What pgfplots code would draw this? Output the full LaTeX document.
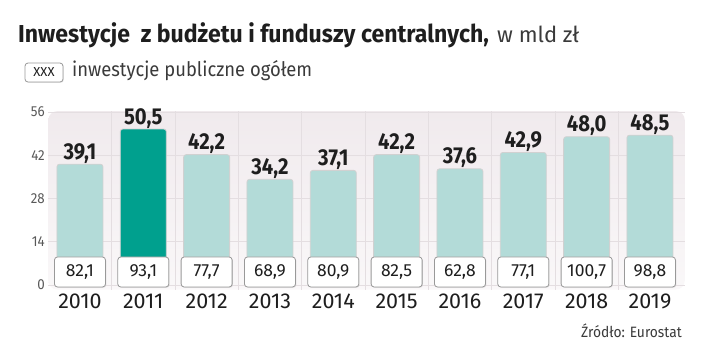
\documentclass[border=0pt]{standalone}
\usepackage{pgfplots}
\pgfplotsset{compat=1.18}
\usepackage{pgfplotstable}
\usepackage{fontspec}
\setmainfont{Fira Sans}
\newfontfamily\cond[FakeStretch=0.94]{Fira Sans}
\newfontfamily\labf[FakeStretch=0.88]{Fira Sans}
\newfontfamily\thin[FakeStretch=0.92]{Fira Sans}
\newfontfamily\unit[FakeStretch=1.0]{Fira Sans}
\usetikzlibrary{shadows}
\definecolor{lightbar}{HTML}{B3DBD8}
\definecolor{darkbar}{HTML}{00A08E}
\definecolor{panel}{HTML}{F0EAED}
\definecolor{gridc}{HTML}{E4DEE1}
\definecolor{ink}{HTML}{1E1E1E}
\definecolor{soft}{HTML}{3A3A3A}

\pgfplotstableread{
x inv invlab total boxy
0 39.1 39,1 82,1 4.2
1 50.5 50,5 93,1 4.2
2 42.2 42,2 77,7 4.2
3 34.2 34,2 68,9 4.2
4 37.1 37,1 80,9 4.2
5 42.2 42,2 82,5 4.2
6 37.6 37,6 62,8 4.2
7 42.9 42,9 77,1 4.2
8 48.0 48,0 100,7 4.2
9 48.5 48,5 98,8 4.2
}\data

\pgfplotstableread{
x inv invlab
0 39.1 39,1
2 42.2 42,2
3 34.2 34,2
4 37.1 37,1
5 42.2 42,2
6 37.6 37,6
7 42.9 42,9
8 48.0 48,0
9 48.5 48,5
}\lightdata

\pgfplotstableread{
x inv invlab
1 50.5 50,5
}\darkdata

\begin{document}
\begin{tikzpicture}
\path[use as bounding box] (0,0) rectangle (720bp,358bp);
\begin{axis}[
  at={(48.3bp,68.4bp)}, anchor=south west,
  scale only axis, width=636.5bp, height=178.5bp,
  xmin=-0.5, xmax=9.55, ymin=-1.5, ymax=56.3,
  clip=false,
  axis line style={draw=none},
  major tick length=0pt, minor tick length=0pt,
  xtick={0,1,2,3,4,5,6,7,8,9},
  xticklabels={2010,2011,2012,2013,2014,2015,2016,2017,2018,2019},
  minor xtick={0.5,1.5,2.5,3.5,4.5,5.5,6.5,7.5,8.5},
  ytick={0,14,28,42,56},
  ymajorgrids, xminorgrids,
  major grid style={draw=gridc, line width=0.6bp},
  minor grid style={draw=gridc, line width=0.6bp},
  axis background/.style={shade, top color=panel, bottom color=panel!35!white, rounded corners=9bp},
  /pgf/number format/assume math mode=true,
  yticklabel style={font=\thin\fontsize{14.5bp}{14.5bp}\selectfont, text=black!65},
  xticklabel style={font=\fontsize{21.5bp}{21.5bp}\selectfont, text=ink, anchor=base, yshift=-18.4bp},
]
\addplot[ybar, bar width=46bp, bar shift=0pt, fill=lightbar, draw=black!18, line width=0.8bp,
  rounded corners=2.5bp,
  nodes near coords, point meta=explicit symbolic,
  nodes near coords style={font=\labf\bfseries\fontsize{23bp}{23bp}\selectfont, text=ink, anchor=base, yshift=5bp, rounded corners=0pt}]
  table[x=x, y=inv, meta=invlab]{\lightdata};
\addplot[ybar, bar width=46bp, bar shift=0pt, fill=darkbar, draw=black!18, line width=0.8bp,
  rounded corners=2.5bp,
  nodes near coords, point meta=explicit symbolic,
  nodes near coords style={font=\labf\bfseries\fontsize{23bp}{23bp}\selectfont, text=ink, anchor=base, yshift=5bp, rounded corners=0pt}]
  table[x=x, y=inv, meta=invlab]{\darkdata};
\addplot[draw=none, mark=none,
  nodes near coords, point meta=explicit symbolic,
  nodes near coords style={anchor=center, draw=black!40, fill=white, rounded corners=3bp,
    line width=0.8bp, minimum width=51bp, minimum height=30bp, inner sep=0pt,
    font=\fontsize{17.5bp}{17.5bp}\selectfont, text=ink,
    drop shadow={opacity=0.18, shadow xshift=0.8bp, shadow yshift=-0.8bp}}]
  table[x=x, y=boxy, meta=total]{\data};
\end{axis}
\node[anchor=base west, inner sep=0pt, text=ink, font=\cond\bfseries\fontsize{24.5bp}{24.5bp}\selectfont]
  at (18bp,315bp) {Inwestycje\ \ z budżetu i funduszy centralnych,};
\node[anchor=base west, inner sep=0pt, text=soft, font=\unit\fontsize{22bp}{22bp}\selectfont]
  at (497bp,315bp) {w mld zł};
\node[anchor=base, draw=black!40, fill=white, rounded corners=3bp, line width=0.8bp,
  minimum width=38bp, minimum height=19bp, inner sep=0pt, text=ink,
  font=\fontsize{13bp}{13bp}\selectfont, drop shadow={opacity=0.18, shadow xshift=0.8bp, shadow yshift=-0.8bp}]
  at (44bp,281bp) {XXX};
\node[anchor=base west, inner sep=0pt, text=soft, font=\thin\fontsize{20bp}{20bp}\selectfont]
  at (72bp,281bp) {inwestycje publiczne ogółem};
\node[anchor=base east, inner sep=0pt, text=soft, font=\thin\fontsize{15bp}{15bp}\selectfont]
  at (682bp,21bp) {Źródło: Eurostat};
\end{tikzpicture}
\end{document}
